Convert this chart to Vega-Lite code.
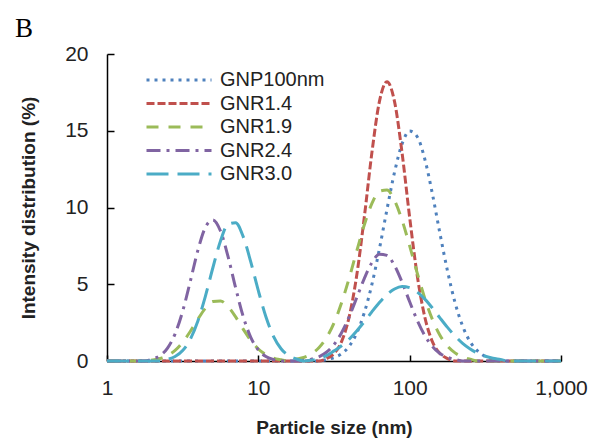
{
  "$schema": "https://vega.github.io/schema/vega-lite/v6.json",
  "width": 454,
  "height": 307,
  "autosize": "none",
  "padding": {"left": 107, "top": 54, "right": 35, "bottom": 80},
  "background": "white",
  "title": {"text": "B", "anchor": "start", "frame": "group", "font": "Liberation Serif", "fontSize": 27, "fontWeight": "normal", "color": "black", "dx": -92, "dy": 41, "offset": 14, "baseline": "bottom"},
  "data": {"values": [
    {"series": "GNP100nm", "size": 1, "value": 0},
    {"series": "GNP100nm", "size": 25.12, "value": 0},
    {"series": "GNP100nm", "size": 28.18, "value": 0.09},
    {"series": "GNP100nm", "size": 31.62, "value": 0.22},
    {"series": "GNP100nm", "size": 35.48, "value": 0.47},
    {"series": "GNP100nm", "size": 39.81, "value": 0.96},
    {"series": "GNP100nm", "size": 44.67, "value": 1.81},
    {"series": "GNP100nm", "size": 50.12, "value": 3.14},
    {"series": "GNP100nm", "size": 56.23, "value": 4.97},
    {"series": "GNP100nm", "size": 63.1, "value": 7.3},
    {"series": "GNP100nm", "size": 70.79, "value": 9.87},
    {"series": "GNP100nm", "size": 79.43, "value": 12.3},
    {"series": "GNP100nm", "size": 89.13, "value": 14.15},
    {"series": "GNP100nm", "size": 100, "value": 14.98},
    {"series": "GNP100nm", "size": 112.2, "value": 14.61},
    {"series": "GNP100nm", "size": 125.9, "value": 13.15},
    {"series": "GNP100nm", "size": 141.3, "value": 10.89},
    {"series": "GNP100nm", "size": 158.5, "value": 8.31},
    {"series": "GNP100nm", "size": 177.8, "value": 5.87},
    {"series": "GNP100nm", "size": 199.5, "value": 3.8},
    {"series": "GNP100nm", "size": 223.9, "value": 2.27},
    {"series": "GNP100nm", "size": 251.2, "value": 1.25},
    {"series": "GNP100nm", "size": 281.8, "value": 0.64},
    {"series": "GNP100nm", "size": 316.2, "value": 0.3},
    {"series": "GNP100nm", "size": 354.8, "value": 0.13},
    {"series": "GNP100nm", "size": 398.1, "value": 0},
    {"series": "GNP100nm", "size": 1000, "value": 0},

    {"series": "GNR1.4", "size": 1, "value": 0},
    {"series": "GNR1.4", "size": 25.12, "value": 0},
    {"series": "GNR1.4", "size": 28.18, "value": 0.16},
    {"series": "GNR1.4", "size": 31.62, "value": 0.49},
    {"series": "GNR1.4", "size": 35.48, "value": 1.26},
    {"series": "GNR1.4", "size": 39.81, "value": 2.86},
    {"series": "GNR1.4", "size": 44.67, "value": 5.57},
    {"series": "GNR1.4", "size": 50.12, "value": 9.35},
    {"series": "GNR1.4", "size": 56.23, "value": 13.54},
    {"series": "GNR1.4", "size": 63.1, "value": 16.9},
    {"series": "GNR1.4", "size": 70.79, "value": 18.2},
    {"series": "GNR1.4", "size": 79.43, "value": 16.9},
    {"series": "GNR1.4", "size": 89.13, "value": 13.54},
    {"series": "GNR1.4", "size": 100, "value": 9.35},
    {"series": "GNR1.4", "size": 112.2, "value": 5.57},
    {"series": "GNR1.4", "size": 125.9, "value": 2.86},
    {"series": "GNR1.4", "size": 141.3, "value": 1.26},
    {"series": "GNR1.4", "size": 158.5, "value": 0.49},
    {"series": "GNR1.4", "size": 177.8, "value": 0.16},
    {"series": "GNR1.4", "size": 199.5, "value": 0},
    {"series": "GNR1.4", "size": 1000, "value": 0},

    {"series": "GNR1.9", "size": 1, "value": 0},
    {"series": "GNR1.9", "size": 1.778, "value": 0},
    {"series": "GNR1.9", "size": 1.995, "value": 0.06},
    {"series": "GNR1.9", "size": 2.239, "value": 0.16},
    {"series": "GNR1.9", "size": 2.512, "value": 0.35},
    {"series": "GNR1.9", "size": 2.818, "value": 0.69},
    {"series": "GNR1.9", "size": 3.162, "value": 1.22},
    {"series": "GNR1.9", "size": 3.548, "value": 1.92},
    {"series": "GNR1.9", "size": 3.981, "value": 2.71},
    {"series": "GNR1.9", "size": 4.467, "value": 3.43},
    {"series": "GNR1.9", "size": 5.012, "value": 3.87},
    {"series": "GNR1.9", "size": 5.623, "value": 3.91},
    {"series": "GNR1.9", "size": 6.31, "value": 3.54},
    {"series": "GNR1.9", "size": 7.079, "value": 2.87},
    {"series": "GNR1.9", "size": 7.943, "value": 2.08},
    {"series": "GNR1.9", "size": 8.913, "value": 1.35},
    {"series": "GNR1.9", "size": 10, "value": 0.78},
    {"series": "GNR1.9", "size": 11.22, "value": 0.41},
    {"series": "GNR1.9", "size": 12.59, "value": 0.19},
    {"series": "GNR1.9", "size": 14.13, "value": 0.08},
    {"series": "GNR1.9", "size": 15.85, "value": 0},
    {"series": "GNR1.9", "size": 17.78, "value": 0.11},
    {"series": "GNR1.9", "size": 19.95, "value": 0.23},
    {"series": "GNR1.9", "size": 22.39, "value": 0.46},
    {"series": "GNR1.9", "size": 25.12, "value": 0.86},
    {"series": "GNR1.9", "size": 28.18, "value": 1.51},
    {"series": "GNR1.9", "size": 31.62, "value": 2.47},
    {"series": "GNR1.9", "size": 35.48, "value": 3.79},
    {"series": "GNR1.9", "size": 39.81, "value": 5.39},
    {"series": "GNR1.9", "size": 44.67, "value": 7.15},
    {"series": "GNR1.9", "size": 50.12, "value": 8.86},
    {"series": "GNR1.9", "size": 56.23, "value": 10.25},
    {"series": "GNR1.9", "size": 63.1, "value": 11.06},
    {"series": "GNR1.9", "size": 70.79, "value": 11.14},
    {"series": "GNR1.9", "size": 79.43, "value": 10.46},
    {"series": "GNR1.9", "size": 89.13, "value": 9.17},
    {"series": "GNR1.9", "size": 100, "value": 7.5},
    {"series": "GNR1.9", "size": 112.2, "value": 5.73},
    {"series": "GNR1.9", "size": 125.9, "value": 4.08},
    {"series": "GNR1.9", "size": 141.3, "value": 2.71},
    {"series": "GNR1.9", "size": 158.5, "value": 1.68},
    {"series": "GNR1.9", "size": 177.8, "value": 0.97},
    {"series": "GNR1.9", "size": 199.5, "value": 0.53},
    {"series": "GNR1.9", "size": 223.9, "value": 0.26},
    {"series": "GNR1.9", "size": 251.2, "value": 0.12},
    {"series": "GNR1.9", "size": 281.8, "value": 0},
    {"series": "GNR1.9", "size": 1000, "value": 0},

    {"series": "GNR2.4", "size": 1, "value": 0},
    {"series": "GNR2.4", "size": 1.778, "value": 0},
    {"series": "GNR2.4", "size": 1.995, "value": 0.13},
    {"series": "GNR2.4", "size": 2.239, "value": 0.35},
    {"series": "GNR2.4", "size": 2.512, "value": 0.84},
    {"series": "GNR2.4", "size": 2.818, "value": 1.77},
    {"series": "GNR2.4", "size": 3.162, "value": 3.24},
    {"series": "GNR2.4", "size": 3.548, "value": 5.17},
    {"series": "GNR2.4", "size": 3.981, "value": 7.19},
    {"series": "GNR2.4", "size": 4.467, "value": 8.7},
    {"series": "GNR2.4", "size": 5.012, "value": 9.19},
    {"series": "GNR2.4", "size": 5.623, "value": 8.47},
    {"series": "GNR2.4", "size": 6.31, "value": 6.8},
    {"series": "GNR2.4", "size": 7.079, "value": 4.77},
    {"series": "GNR2.4", "size": 7.943, "value": 2.9},
    {"series": "GNR2.4", "size": 8.913, "value": 1.54},
    {"series": "GNR2.4", "size": 10, "value": 0.72},
    {"series": "GNR2.4", "size": 11.22, "value": 0.29},
    {"series": "GNR2.4", "size": 12.59, "value": 0.1},
    {"series": "GNR2.4", "size": 14.13, "value": 0},
    {"series": "GNR2.4", "size": 17.78, "value": 0},
    {"series": "GNR2.4", "size": 19.95, "value": 0.05},
    {"series": "GNR2.4", "size": 22.39, "value": 0.12},
    {"series": "GNR2.4", "size": 25.12, "value": 0.27},
    {"series": "GNR2.4", "size": 28.18, "value": 0.57},
    {"series": "GNR2.4", "size": 31.62, "value": 1.07},
    {"series": "GNR2.4", "size": 35.48, "value": 1.84},
    {"series": "GNR2.4", "size": 39.81, "value": 2.88},
    {"series": "GNR2.4", "size": 44.67, "value": 4.12},
    {"series": "GNR2.4", "size": 50.12, "value": 5.37},
    {"series": "GNR2.4", "size": 56.23, "value": 6.4},
    {"series": "GNR2.4", "size": 63.1, "value": 6.95},
    {"series": "GNR2.4", "size": 70.79, "value": 6.88},
    {"series": "GNR2.4", "size": 79.43, "value": 6.22},
    {"series": "GNR2.4", "size": 89.13, "value": 5.13},
    {"series": "GNR2.4", "size": 100, "value": 3.86},
    {"series": "GNR2.4", "size": 112.2, "value": 2.65},
    {"series": "GNR2.4", "size": 125.9, "value": 1.66},
    {"series": "GNR2.4", "size": 141.3, "value": 0.95},
    {"series": "GNR2.4", "size": 158.5, "value": 0.49},
    {"series": "GNR2.4", "size": 177.8, "value": 0.24},
    {"series": "GNR2.4", "size": 199.5, "value": 0.1},
    {"series": "GNR2.4", "size": 223.9, "value": 0},
    {"series": "GNR2.4", "size": 1000, "value": 0},

    {"series": "GNR3.0", "size": 1, "value": 0},
    {"series": "GNR3.0", "size": 2.239, "value": 0},
    {"series": "GNR3.0", "size": 2.512, "value": 0.11},
    {"series": "GNR3.0", "size": 2.818, "value": 0.29},
    {"series": "GNR3.0", "size": 3.162, "value": 0.68},
    {"series": "GNR3.0", "size": 3.548, "value": 1.41},
    {"series": "GNR3.0", "size": 3.981, "value": 2.59},
    {"series": "GNR3.0", "size": 4.467, "value": 4.21},
    {"series": "GNR3.0", "size": 5.012, "value": 6.09},
    {"series": "GNR3.0", "size": 5.623, "value": 7.82},
    {"series": "GNR3.0", "size": 6.31, "value": 8.91},
    {"series": "GNR3.0", "size": 7.079, "value": 9.01},
    {"series": "GNR3.0", "size": 7.943, "value": 8.1},
    {"series": "GNR3.0", "size": 8.913, "value": 6.46},
    {"series": "GNR3.0", "size": 10, "value": 4.58},
    {"series": "GNR3.0", "size": 11.22, "value": 2.88},
    {"series": "GNR3.0", "size": 12.59, "value": 1.61},
    {"series": "GNR3.0", "size": 14.13, "value": 0.8},
    {"series": "GNR3.0", "size": 15.85, "value": 0.35},
    {"series": "GNR3.0", "size": 17.78, "value": 0.14},
    {"series": "GNR3.0", "size": 19.95, "value": 0},
    {"series": "GNR3.0", "size": 22.39, "value": 0.05},
    {"series": "GNR3.0", "size": 25.12, "value": 0.15},
    {"series": "GNR3.0", "size": 28.18, "value": 0.35},
    {"series": "GNR3.0", "size": 31.62, "value": 0.66},
    {"series": "GNR3.0", "size": 35.48, "value": 0.99},
    {"series": "GNR3.0", "size": 39.81, "value": 1.42},
    {"series": "GNR3.0", "size": 44.67, "value": 1.96},
    {"series": "GNR3.0", "size": 50.12, "value": 2.56},
    {"series": "GNR3.0", "size": 56.23, "value": 3.2},
    {"series": "GNR3.0", "size": 63.1, "value": 3.81},
    {"series": "GNR3.0", "size": 70.79, "value": 4.33},
    {"series": "GNR3.0", "size": 79.43, "value": 4.69},
    {"series": "GNR3.0", "size": 89.13, "value": 4.85},
    {"series": "GNR3.0", "size": 100, "value": 4.78},
    {"series": "GNR3.0", "size": 112.2, "value": 4.49},
    {"series": "GNR3.0", "size": 125.9, "value": 4.03},
    {"series": "GNR3.0", "size": 141.3, "value": 3.45},
    {"series": "GNR3.0", "size": 158.5, "value": 2.81},
    {"series": "GNR3.0", "size": 177.8, "value": 2.19},
    {"series": "GNR3.0", "size": 199.5, "value": 1.63},
    {"series": "GNR3.0", "size": 223.9, "value": 1.15},
    {"series": "GNR3.0", "size": 251.2, "value": 0.78},
    {"series": "GNR3.0", "size": 281.8, "value": 0.5},
    {"series": "GNR3.0", "size": 316.2, "value": 0.31},
    {"series": "GNR3.0", "size": 354.8, "value": 0.18},
    {"series": "GNR3.0", "size": 398.1, "value": 0.1},
    {"series": "GNR3.0", "size": 446.7, "value": 0},
    {"series": "GNR3.0", "size": 1000, "value": 0}
  ]},
  "mark": {"type": "line", "strokeWidth": 3, "interpolate": "monotone"},
  "encoding": {
    "x": {
      "field": "size", "type": "quantitative",
      "scale": {"type": "log", "domain": [1, 1000]},
      "axis": {"values": [1, 10, 100, 1000], "format": ",", "title": "Particle size (nm)", "tickSize": -6, "labelPadding": 22, "titlePadding": 20, "labelFlush": false}
    },
    "y": {
      "field": "value", "type": "quantitative",
      "scale": {"domain": [0, 20]},
      "axis": {"values": [0, 5, 10, 15, 20], "title": "Intensity distribution (%)", "tickSize": -7, "labelPadding": 26, "titlePadding": 26}
    },
    "color": {
      "field": "series", "type": "nominal",
      "scale": {"domain": ["GNP100nm", "GNR1.4", "GNR1.9", "GNR2.4", "GNR3.0"], "range": ["#4F81BD", "#C0504D", "#9BBB59", "#8064A2", "#4BACC6"]},
      "legend": {"title": null, "orient": "none", "legendX": 62, "legendY": 16, "symbolType": "M-5,0L5,0", "symbolSize": 169, "symbolStrokeWidth": 3, "labelFontSize": 20, "labelFont": "Liberation Sans", "labelColor": "#222", "rowPadding": 3.5, "labelOffset": 31, "padding": 0}
    },
    "strokeDash": {
      "field": "series", "type": "nominal",
      "scale": {"domain": ["GNP100nm", "GNR1.4", "GNR1.9", "GNR2.4", "GNR3.0"], "range": [[3, 5], [8, 3], [12, 10], [14, 6, 3, 6], [22, 9]]},
      "legend": {"title": null}
    }
  },
  "config": {
    "view": {"stroke": null},
    "axis": {"grid": false, "domainColor": "black", "domainWidth": 1.5, "tickColor": "black", "tickWidth": 1.5, "labelFont": "Liberation Sans", "labelFontSize": 21, "labelColor": "#222", "titleFont": "Liberation Sans", "titleFontSize": 19, "titleFontWeight": "bold", "titleColor": "#222"}
  }
}
